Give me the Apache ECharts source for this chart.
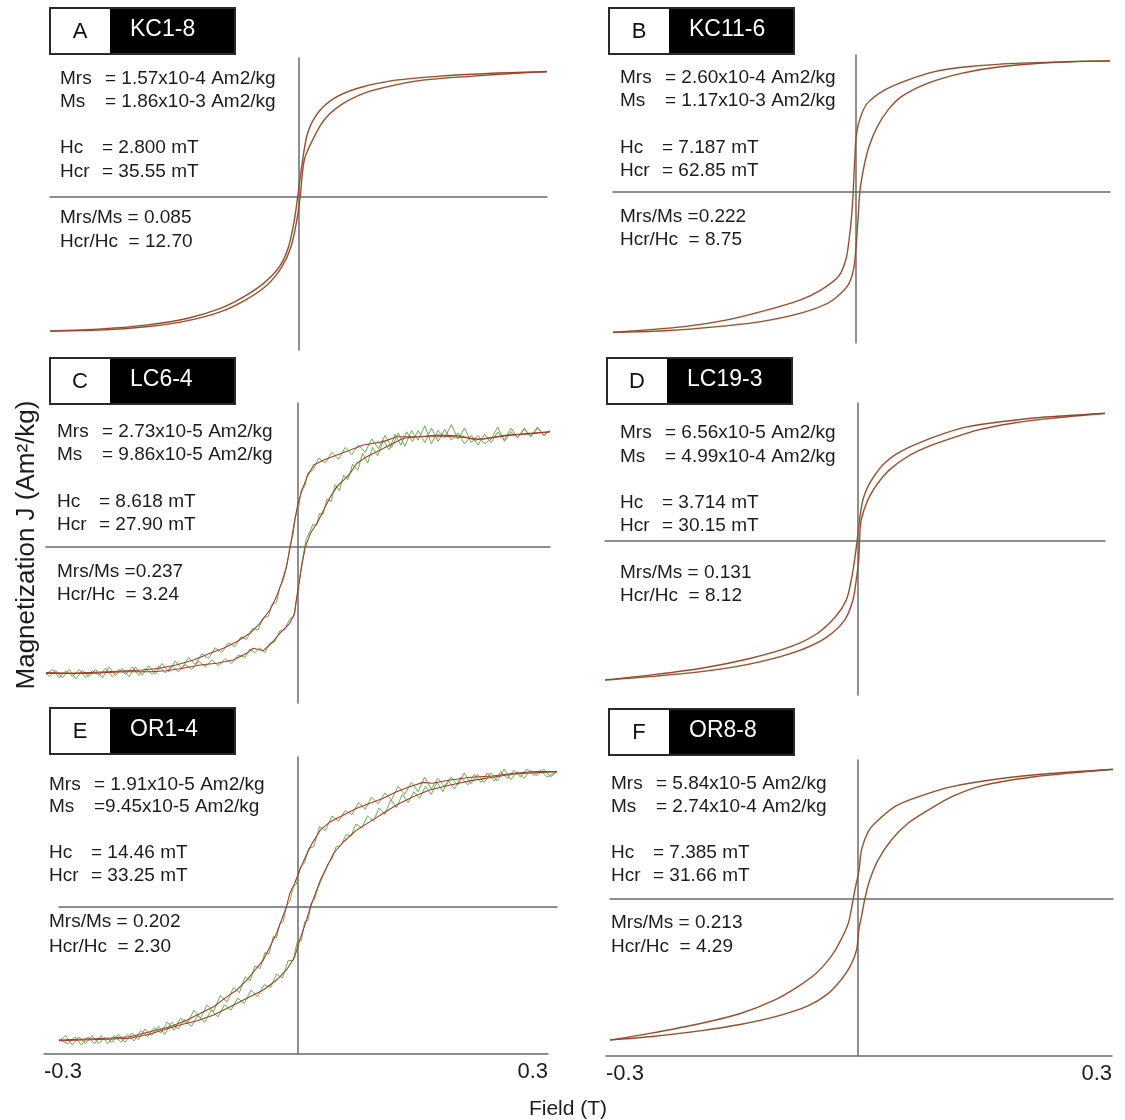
<!DOCTYPE html>
<html>
<head>
<meta charset="utf-8">
<title>Hysteresis loops</title>
<script src="https://cdn.jsdelivr.net/npm/echarts@6.0.0/dist/echarts.min.js"></script>
<style>
  html, body { margin: 0; padding: 0; background: #ffffff; }
  #chart { width: 1125px; height: 1120px; }
</style>
</head>
<body>
<div id="chart"></div>
<script>
// ---- Panel identifiers ----
const panelLetters = ['A', 'B', 'C', 'D', 'E', 'F'];
const sampleNames = ['KC1-8', 'KC11-6', 'LC6-4', 'LC19-3', 'OR1-4', 'OR8-8'];

// ---- Hysteresis parameters printed in each panel ----
const paramsKC18  = [['Mrs', '= 1.57x10-4 Am2/kg'], ['Ms', '= 1.86x10-3 Am2/kg'], ['Hc', '= 2.800 mT'], ['Hcr', '= 35.55 mT']];
const ratiosKC18  = ['Mrs/Ms = 0.085', 'Hcr/Hc  = 12.70'];
const paramsKC116 = [['Mrs', '= 2.60x10-4 Am2/kg'], ['Ms', '= 1.17x10-3 Am2/kg'], ['Hc', '= 7.187 mT'], ['Hcr', '= 62.85 mT']];
const ratiosKC116 = ['Mrs/Ms =0.222', 'Hcr/Hc  = 8.75'];
const paramsLC64  = [['Mrs', '= 2.73x10-5 Am2/kg'], ['Ms', '= 9.86x10-5 Am2/kg'], ['Hc', '= 8.618 mT'], ['Hcr', '= 27.90 mT']];
const ratiosLC64  = ['Mrs/Ms =0.237', 'Hcr/Hc  = 3.24'];
const paramsLC193 = [['Mrs', '= 6.56x10-5 Am2/kg'], ['Ms', '= 4.99x10-4 Am2/kg'], ['Hc', '= 3.714 mT'], ['Hcr', '= 30.15 mT']];
const ratiosLC193 = ['Mrs/Ms = 0.131', 'Hcr/Hc  = 8.12'];
const paramsOR14  = [['Mrs', '= 1.91x10-5 Am2/kg'], ['Ms', '=9.45x10-5 Am2/kg'], ['Hc', '= 14.46 mT'], ['Hcr', '= 33.25 mT']];
const ratiosOR14  = ['Mrs/Ms = 0.202', 'Hcr/Hc  = 2.30'];
const paramsOR88  = [['Mrs', '= 5.84x10-5 Am2/kg'], ['Ms', '= 2.74x10-4 Am2/kg'], ['Hc', '= 7.385 mT'], ['Hcr', '= 31.66 mT']];
const ratiosOR88  = ['Mrs/Ms = 0.213', 'Hcr/Hc  = 4.29'];

// ---- Loop branches: [field (T), M / Ms] ----
// KC1-8
const kc18Descending = [[0.300,0.968],[0.232,0.955],[0.172,0.934],[0.111,0.896],[0.071,0.839],[0.043,0.762],[0.023,0.646],[0.011,0.492],[0.005,0.286],[-0.001,0.002],[-0.005,-0.178],[-0.012,-0.384],[-0.023,-0.538],[-0.042,-0.666],[-0.066,-0.770],[-0.094,-0.859],[-0.134,-0.937],[-0.183,-0.988],[-0.239,-1.019],[-0.300,-1.035]];
const kc18Ascending = [[-0.300,-1.035],[-0.239,-1.027],[-0.183,-1.001],[-0.134,-0.955],[-0.094,-0.886],[-0.064,-0.795],[-0.038,-0.680],[-0.020,-0.538],[-0.009,-0.384],[-0.002,-0.178],[0.002,0.002],[0.007,0.286],[0.017,0.440],[0.031,0.595],[0.051,0.710],[0.079,0.801],[0.111,0.857],[0.151,0.903],[0.212,0.934],[0.260,0.955],[0.300,0.968]];

// KC11-6
const kc116Descending = [[0.307,0.967],[0.196,0.950],[0.136,0.925],[0.095,0.888],[0.063,0.827],[0.035,0.753],[0.014,0.655],[0.006,0.556],[0.001,0.433],[-0.001,0.261],[-0.003,0.002],[-0.005,-0.182],[-0.008,-0.354],[-0.012,-0.502],[-0.021,-0.625],[-0.042,-0.723],[-0.067,-0.797],[-0.107,-0.871],[-0.156,-0.945],[-0.208,-0.994],[-0.293,-1.036]];
const kc116Ascending = [[-0.293,-1.036],[-0.228,-1.023],[-0.168,-0.994],[-0.115,-0.957],[-0.067,-0.895],[-0.034,-0.822],[-0.018,-0.748],[-0.008,-0.674],[-0.002,-0.551],[0.001,-0.354],[0.003,-0.182],[0.005,0.002],[0.010,0.187],[0.016,0.334],[0.026,0.482],[0.039,0.605],[0.055,0.703],[0.087,0.802],[0.128,0.876],[0.176,0.925],[0.257,0.962],[0.307,0.967]];

// LC6-4 (smoothed trace and raw measurement)
const lc64Descending = [[0.304,0.961],[0.279,0.942],[0.252,0.933],[0.227,0.906],[0.214,0.892],[0.197,0.925],[0.171,0.933],[0.145,0.919],[0.135,0.919],[0.119,0.919],[0.103,0.878],[0.079,0.850],[0.063,0.808],[0.047,0.767],[0.031,0.725],[0.019,0.683],[0.011,0.586],[0.005,0.475],[0.000,0.364],[-0.004,0.225],[-0.008,0.058],[-0.010,-0.025],[-0.014,-0.164],[-0.020,-0.303],[-0.026,-0.414],[-0.034,-0.525],[-0.046,-0.636],[-0.058,-0.719],[-0.074,-0.789],[-0.090,-0.844],[-0.106,-0.886],[-0.126,-0.942],[-0.147,-0.983],[-0.167,-1.011],[-0.187,-1.025],[-0.231,-1.039],[-0.274,-1.053],[-0.304,-1.047]];
const lc64Ascending = [[-0.304,-1.053],[-0.252,-1.053],[-0.209,-1.039],[-0.179,-1.039],[-0.159,-1.031],[-0.139,-1.011],[-0.118,-0.983],[-0.098,-0.969],[-0.078,-0.942],[-0.062,-0.886],[-0.054,-0.844],[-0.042,-0.864],[-0.032,-0.803],[-0.022,-0.719],[-0.010,-0.636],[-0.004,-0.553],[-0.002,-0.442],[0.002,-0.275],[0.005,-0.136],[0.009,0.003],[0.015,0.114],[0.023,0.198],[0.031,0.308],[0.039,0.419],[0.047,0.503],[0.055,0.558],[0.063,0.614],[0.071,0.698],[0.083,0.753],[0.095,0.794],[0.111,0.850],[0.127,0.906],[0.145,0.919],[0.171,0.925],[0.197,0.914],[0.222,0.898],[0.252,0.928],[0.279,0.947],[0.304,0.961]];
const lc64RawDescending = [[0.304,0.97],[0.296,0.93],[0.289,1.00],[0.281,0.92],[0.273,0.99],[0.265,0.91],[0.257,0.96],[0.249,0.88],[0.241,1.00],[0.233,0.90],[0.225,0.86],[0.217,0.93],[0.209,0.87],[0.201,0.99],[0.193,0.90],[0.185,1.02],[0.177,0.91],[0.169,0.97],[0.161,0.86],[0.153,1.01],[0.145,0.89],[0.137,0.97],[0.129,0.84],[0.121,0.95],[0.113,0.83],[0.105,0.93],[0.097,0.82],[0.089,0.90],[0.081,0.79],[0.073,0.85],[0.065,0.77],[0.057,0.83],[0.049,0.73],[0.041,0.79],[0.033,0.70],[0.025,0.74],[0.018,0.64],[0.012,0.62],[0.008,0.50],[0.004,0.48],[0.001,0.34],[-0.003,0.25],[-0.006,0.10],[-0.010,0.00],[-0.013,-0.14],[-0.017,-0.26],[-0.022,-0.34],[-0.026,-0.46],[-0.031,-0.48],[-0.036,-0.58],[-0.042,-0.59],[-0.048,-0.69],[-0.055,-0.68],[-0.062,-0.77],[-0.069,-0.75],[-0.076,-0.83],[-0.084,-0.80],[-0.092,-0.88],[-0.100,-0.84],[-0.108,-0.93],[-0.116,-0.89],[-0.124,-0.98],[-0.132,-0.92],[-0.140,-1.01],[-0.148,-0.95],[-0.156,-1.04],[-0.164,-0.97],[-0.172,-1.06],[-0.180,-0.99],[-0.188,-1.07],[-0.196,-1.00],[-0.204,-1.08],[-0.212,-1.01],[-0.220,-1.07],[-0.228,-1.00],[-0.236,-1.09],[-0.244,-1.02],[-0.252,-1.08],[-0.260,-1.03],[-0.268,-1.10],[-0.276,-1.02],[-0.284,-1.09],[-0.292,-1.03],[-0.300,-1.08],[-0.304,-1.05]];
const lc64RawAscending = [[-0.304,-1.06],[-0.296,-1.02],[-0.288,-1.09],[-0.280,-1.03],[-0.272,-1.08],[-0.264,-1.02],[-0.256,-1.09],[-0.248,-1.03],[-0.240,-1.07],[-0.232,-1.01],[-0.224,-1.08],[-0.216,-1.02],[-0.208,-1.06],[-0.200,-1.00],[-0.192,-1.07],[-0.184,-1.01],[-0.176,-1.06],[-0.168,-0.99],[-0.160,-1.05],[-0.152,-0.99],[-0.144,-1.04],[-0.136,-0.98],[-0.128,-1.02],[-0.120,-0.95],[-0.112,-1.00],[-0.104,-0.94],[-0.096,-0.99],[-0.088,-0.93],[-0.080,-0.97],[-0.072,-0.90],[-0.064,-0.92],[-0.058,-0.85],[-0.052,-0.88],[-0.046,-0.84],[-0.040,-0.88],[-0.034,-0.80],[-0.028,-0.79],[-0.022,-0.70],[-0.016,-0.69],[-0.010,-0.60],[-0.005,-0.58],[-0.002,-0.44],[0.001,-0.30],[0.004,-0.16],[0.007,-0.04],[0.010,0.07],[0.014,0.12],[0.018,0.19],[0.022,0.18],[0.026,0.28],[0.030,0.27],[0.035,0.40],[0.040,0.38],[0.045,0.52],[0.050,0.47],[0.055,0.60],[0.060,0.56],[0.066,0.69],[0.072,0.64],[0.078,0.78],[0.084,0.70],[0.090,0.83],[0.096,0.76],[0.103,0.89],[0.110,0.81],[0.117,0.94],[0.124,0.85],[0.131,0.96],[0.138,0.88],[0.145,0.97],[0.153,0.87],[0.161,0.99],[0.169,0.88],[0.177,0.98],[0.185,0.89],[0.193,0.95],[0.201,0.86],[0.209,0.93],[0.217,0.85],[0.225,0.94],[0.233,0.87],[0.241,0.96],[0.249,0.89],[0.257,0.99],[0.265,0.91],[0.273,0.98],[0.281,0.92],[0.289,0.99],[0.297,0.93],[0.304,0.97]];

// LC19-3
const lc193Descending = [[0.299,0.956],[0.222,0.926],[0.174,0.894],[0.133,0.856],[0.105,0.807],[0.073,0.732],[0.048,0.657],[0.032,0.582],[0.022,0.507],[0.012,0.407],[0.006,0.307],[0.002,0.157],[-0.001,0.000],[-0.004,-0.142],[-0.008,-0.292],[-0.014,-0.442],[-0.027,-0.567],[-0.049,-0.692],[-0.081,-0.791],[-0.130,-0.879],[-0.190,-0.954],[-0.251,-1.004],[-0.306,-1.041]];
const lc193Ascending = [[-0.306,-1.041],[-0.243,-1.011],[-0.174,-0.966],[-0.118,-0.904],[-0.069,-0.816],[-0.037,-0.717],[-0.016,-0.592],[-0.006,-0.442],[-0.002,-0.292],[0.001,-0.142],[0.002,0.000],[0.004,0.157],[0.012,0.307],[0.024,0.432],[0.038,0.532],[0.060,0.632],[0.085,0.707],[0.113,0.769],[0.145,0.831],[0.186,0.881],[0.234,0.919],[0.299,0.956]];

// OR1-4 (smoothed trace and raw measurement)
const or14Descending = [[0.313,1.010],[0.287,1.010],[0.261,0.998],[0.235,0.978],[0.209,0.968],[0.184,0.948],[0.162,0.923],[0.151,0.930],[0.135,0.898],[0.119,0.860],[0.103,0.811],[0.087,0.774],[0.071,0.737],[0.055,0.687],[0.039,0.637],[0.027,0.575],[0.017,0.475],[0.009,0.375],[0.002,0.276],[-0.004,0.177],[-0.010,0.102],[-0.014,0.002],[-0.020,-0.097],[-0.026,-0.196],[-0.034,-0.296],[-0.042,-0.396],[-0.052,-0.470],[-0.062,-0.545],[-0.074,-0.619],[-0.086,-0.669],[-0.102,-0.744],[-0.118,-0.793],[-0.134,-0.843],[-0.155,-0.893],[-0.179,-0.931],[-0.203,-0.968],[-0.231,-0.980],[-0.289,-0.993]];
const or14Ascending = [[-0.289,-0.998],[-0.231,-0.987],[-0.203,-0.980],[-0.179,-0.948],[-0.163,-0.918],[-0.143,-0.881],[-0.122,-0.849],[-0.102,-0.806],[-0.082,-0.744],[-0.062,-0.681],[-0.042,-0.619],[-0.026,-0.545],[-0.014,-0.470],[-0.004,-0.371],[0.002,-0.246],[0.009,-0.122],[0.015,0.002],[0.021,0.102],[0.027,0.201],[0.035,0.301],[0.043,0.401],[0.055,0.487],[0.071,0.575],[0.087,0.637],[0.103,0.699],[0.119,0.761],[0.139,0.823],[0.159,0.873],[0.184,0.910],[0.209,0.943],[0.235,0.968],[0.261,0.993],[0.287,1.002],[0.313,1.010]];
const or14RawDescending = [[0.313,1.01],[0.305,0.97],[0.297,1.03],[0.289,0.98],[0.281,1.02],[0.273,0.96],[0.265,1.01],[0.257,0.95],[0.249,1.03],[0.241,0.94],[0.233,1.00],[0.225,0.93],[0.217,0.99],[0.209,0.92],[0.201,1.00],[0.193,0.91],[0.185,0.97],[0.177,0.90],[0.169,0.96],[0.161,0.88],[0.153,0.97],[0.145,0.86],[0.137,0.93],[0.129,0.84],[0.121,0.90],[0.113,0.80],[0.105,0.85],[0.097,0.77],[0.089,0.82],[0.081,0.73],[0.073,0.78],[0.065,0.69],[0.057,0.72],[0.049,0.64],[0.041,0.68],[0.033,0.57],[0.026,0.60],[0.019,0.45],[0.013,0.44],[0.008,0.33],[0.003,0.30],[-0.002,0.17],[-0.006,0.15],[-0.010,0.04],[-0.014,0.01],[-0.018,-0.11],[-0.022,-0.12],[-0.026,-0.23],[-0.030,-0.22],[-0.035,-0.35],[-0.040,-0.34],[-0.046,-0.46],[-0.052,-0.44],[-0.058,-0.55],[-0.064,-0.52],[-0.071,-0.64],[-0.078,-0.60],[-0.086,-0.71],[-0.094,-0.66],[-0.102,-0.78],[-0.110,-0.73],[-0.118,-0.83],[-0.126,-0.77],[-0.134,-0.87],[-0.142,-0.83],[-0.150,-0.92],[-0.158,-0.86],[-0.166,-0.94],[-0.174,-0.90],[-0.182,-0.97],[-0.190,-0.92],[-0.198,-1.00],[-0.206,-0.95],[-0.214,-1.01],[-0.222,-0.96],[-0.230,-1.02],[-0.238,-0.96],[-0.246,-1.02],[-0.254,-0.97],[-0.262,-1.03],[-0.270,-0.97],[-0.278,-1.02],[-0.289,-0.99]];
const or14RawAscending = [[-0.289,-1.00],[-0.281,-0.96],[-0.273,-1.03],[-0.265,-0.97],[-0.257,-1.02],[-0.249,-0.96],[-0.241,-1.02],[-0.233,-0.97],[-0.225,-1.01],[-0.217,-0.95],[-0.209,-1.01],[-0.201,-0.94],[-0.193,-0.99],[-0.185,-0.91],[-0.177,-0.96],[-0.169,-0.89],[-0.161,-0.95],[-0.153,-0.86],[-0.145,-0.91],[-0.137,-0.84],[-0.129,-0.89],[-0.121,-0.81],[-0.113,-0.86],[-0.105,-0.77],[-0.097,-0.82],[-0.089,-0.73],[-0.081,-0.77],[-0.073,-0.68],[-0.065,-0.72],[-0.057,-0.62],[-0.049,-0.67],[-0.041,-0.58],[-0.033,-0.60],[-0.026,-0.50],[-0.019,-0.53],[-0.012,-0.40],[-0.006,-0.40],[-0.001,-0.26],[0.004,-0.25],[0.008,-0.11],[0.012,-0.10],[0.016,0.03],[0.020,0.06],[0.024,0.14],[0.028,0.20],[0.032,0.26],[0.036,0.32],[0.041,0.36],[0.046,0.45],[0.052,0.46],[0.058,0.54],[0.064,0.53],[0.070,0.62],[0.077,0.59],[0.084,0.68],[0.091,0.64],[0.098,0.74],[0.105,0.69],[0.112,0.80],[0.119,0.74],[0.126,0.84],[0.133,0.78],[0.140,0.86],[0.147,0.81],[0.154,0.90],[0.161,0.84],[0.168,0.93],[0.175,0.86],[0.182,0.94],[0.189,0.88],[0.197,0.97],[0.205,0.91],[0.213,0.99],[0.221,0.93],[0.229,1.00],[0.237,0.94],[0.245,1.01],[0.253,0.96],[0.261,1.02],[0.269,0.97],[0.277,1.03],[0.285,0.98],[0.293,1.02],[0.301,0.97],[0.313,1.01]];

// OR8-8
const or88Descending = [[0.308,0.957],[0.234,0.927],[0.174,0.890],[0.113,0.829],[0.073,0.755],[0.044,0.681],[0.020,0.558],[0.012,0.497],[0.004,0.362],[0.001,0.214],[-0.004,0.066],[-0.006,0.000],[-0.012,-0.180],[-0.023,-0.327],[-0.033,-0.426],[-0.051,-0.549],[-0.073,-0.647],[-0.101,-0.745],[-0.142,-0.844],[-0.190,-0.918],[-0.251,-0.991],[-0.300,-1.041]];
const or88Ascending = [[-0.300,-1.041],[-0.251,-1.016],[-0.190,-0.972],[-0.142,-0.925],[-0.097,-0.863],[-0.061,-0.790],[-0.037,-0.701],[-0.021,-0.598],[-0.010,-0.500],[-0.002,-0.376],[0.001,-0.216],[0.004,-0.130],[0.008,0.000],[0.014,0.140],[0.024,0.288],[0.040,0.435],[0.060,0.558],[0.085,0.657],[0.113,0.755],[0.153,0.841],[0.214,0.903],[0.275,0.940],[0.308,0.957]];

// Field axis tick labels (bottom row)
const fieldTicks = [-0.3, 0.3];
const fieldTickStep = 0.3;

// ---- Assembly ----
const samples = [
  { params: paramsKC18,  ratios: ratiosKC18,  curve: [kc18Descending, kc18Ascending],   raw: null },
  { params: paramsKC116, ratios: ratiosKC116, curve: [kc116Descending, kc116Ascending], raw: null },
  { params: paramsLC64,  ratios: ratiosLC64,  curve: [lc64Descending, lc64Ascending],   raw: [lc64RawDescending, lc64RawAscending] },
  { params: paramsLC193, ratios: ratiosLC193, curve: [lc193Descending, lc193Ascending], raw: null },
  { params: paramsOR14,  ratios: ratiosOR14,  curve: [or14Descending, or14Ascending],   raw: [or14RawDescending, or14RawAscending] },
  { params: paramsOR88,  ratios: ratiosOR88,  curve: [or88Descending, or88Ascending],   raw: null }
];

// Panel placement on the page (pixels)
const frames = [
  { left: 50,  right: 547,  top: 58,  bottom: 350,  zero: 197, unit: 129.5, box: [50, 8],   textX: 60,  textY: [79, 102, 148, 172, 218, 242] },
  { left: 613, right: 1110, top: 55,  bottom: 343,  zero: 192, unit: 135.5, box: [609, 8],  textX: 620, textY: [78, 101, 148, 171, 217, 240] },
  { left: 46,  right: 550,  top: 403, bottom: 703,  zero: 547, unit: 120,   box: [50, 358], textX: 57,  textY: [432, 455, 502, 525, 572, 595] },
  { left: 605, right: 1105, top: 403, bottom: 695,  zero: 541, unit: 133.5, box: [607, 358], textX: 620, textY: [433, 457, 503, 526, 573, 596] },
  { left: 59,  right: 557,  top: 757, bottom: 1054, zero: 907, unit: 134,   box: [50, 708], textX: 49,  textY: [785, 807, 853, 876, 922, 947] },
  { left: 610, right: 1113, top: 760, bottom: 1056, zero: 899, unit: 135.5, box: [609, 709], textX: 611, textY: [784, 807, 853, 876, 923, 947] }
];
// Bottom field axes of the last row
const fieldAxisFrames = [
  { left: 44,  right: 548,  y: 1054 },
  { left: 606, right: 1112, y: 1056 }
];

const FONT = '"Liberation Sans", Arial, Helvetica, sans-serif';
const AXIS_GRAY = '#6a6a6a';
const RED = '#a33d2f';
const GREEN = '#5fa845';
const TEXT = '#1c1c1c';

const grid = [], xAxis = [], yAxis = [], series = [], elements = [];

function hiddenParts() {
  return { axisTick: { show: false }, axisLabel: { show: false }, splitLine: { show: false } };
}
function label(x, y, text, size, fill, align, extra) {
  return Object.assign({
    type: 'text', x, y, silent: true,
    style: { text, font: size + 'px ' + FONT, fill, align, verticalAlign: 'middle', textAlign: align, textVerticalAlign: 'middle' }
  }, extra || {});
}

samples.forEach((s, i) => {
  const f = frames[i];
  const noisy = !!s.raw;
  const under = s.raw || s.curve;
  const fields = s.curve.concat(under).flat().map(p => p[0]);

  grid.push({ left: f.left, top: f.top, width: f.right - f.left, height: f.bottom - f.top });
  xAxis.push(Object.assign({
    gridIndex: i, type: 'value',
    min: Math.min.apply(null, fields), max: Math.max.apply(null, fields),
    axisLine: { show: true, onZero: true, lineStyle: { color: AXIS_GRAY, width: 1.5 } }
  }, hiddenParts()));
  yAxis.push(Object.assign({
    gridIndex: i, type: 'value',
    min: -(f.bottom - f.zero) / f.unit, max: (f.zero - f.top) / f.unit,
    axisLine: { show: true, onZero: true, lineStyle: { color: AXIS_GRAY, width: 1.5 } }
  }, hiddenParts()));

  // raw measurement (green) underneath
  under.forEach(d => series.push({
    type: 'line', xAxisIndex: i, yAxisIndex: i, data: d, showSymbol: false, silent: true,
    smooth: noisy ? false : 0.3, z: 2,
    lineStyle: { color: GREEN, width: noisy ? 1 : 1.8, opacity: noisy ? 0.95 : 0.45 }
  }));
  // fitted loop (red) on top
  s.curve.forEach(d => series.push({
    type: 'line', xAxisIndex: i, yAxisIndex: i, data: d, showSymbol: false, silent: true,
    smooth: noisy ? false : 0.3, z: 3,
    lineStyle: { color: RED, width: 1.1 }
  }));

  // label box: letter in white cell, sample name in black cell
  const [bx, by] = f.box;
  elements.push({ type: 'rect', shape: { x: bx, y: by, width: 185, height: 46 }, style: { fill: '#000', stroke: '#2a2a2a', lineWidth: 2 }, silent: true });
  elements.push({ type: 'rect', shape: { x: bx + 1, y: by + 1, width: 59, height: 44 }, style: { fill: '#fff' }, silent: true });
  elements.push(label(bx + 30, by + 24, panelLetters[i], 22, '#111', 'center'));
  elements.push(label(bx + 80, by + 22, sampleNames[i], 23, '#fff', 'left'));

  // parameter lines
  s.params.forEach((row, r) => {
    const y = f.textY[r];
    elements.push(label(f.textX, y, row[0], 19, TEXT, 'left'));
    elements.push(label(f.textX + (r < 2 ? 45 : 42), y, row[1], 19, TEXT, 'left'));
  });
  s.ratios.forEach((line, r) => {
    elements.push(label(f.textX, f.textY[4 + r], line, 19, TEXT, 'left'));
  });
});

// bottom field axes with end labels
fieldAxisFrames.forEach(a => {
  const gi = grid.length;
  grid.push({ left: a.left, top: a.y - 1, width: a.right - a.left, height: 1 });
  xAxis.push({
    gridIndex: gi, type: 'value', position: 'bottom',
    min: fieldTicks[0], max: fieldTicks[1], interval: fieldTickStep,
    axisLine: { show: true, onZero: false, lineStyle: { color: AXIS_GRAY, width: 1.5 } },
    axisTick: { show: false }, splitLine: { show: false },
    axisLabel: {
      show: true, margin: 7, fontSize: 22, fontFamily: FONT, color: TEXT,
      alignMinLabel: 'left', alignMaxLabel: 'right',
      formatter: v => (Math.abs(v) < 1e-9 ? '' : String(Math.round(v * 10) / 10))
    }
  });
  yAxis.push({ gridIndex: gi, type: 'value', show: false, min: 0, max: 1 });
});

// axis titles
elements.push(label(27, 545, 'Magnetization J (Am\u00b2/kg)', 26, TEXT, 'center', { rotation: Math.PI / 2 }));
elements.push(label(568, 1109, 'Field (T)', 21, TEXT, 'center'));

const chart = echarts.init(document.getElementById('chart'), null, { renderer: 'canvas' });
chart.setOption({
  backgroundColor: '#ffffff',
  animation: false,
  grid, xAxis, yAxis, series,
  graphic: { elements }
});
</script>
</body>
</html>
